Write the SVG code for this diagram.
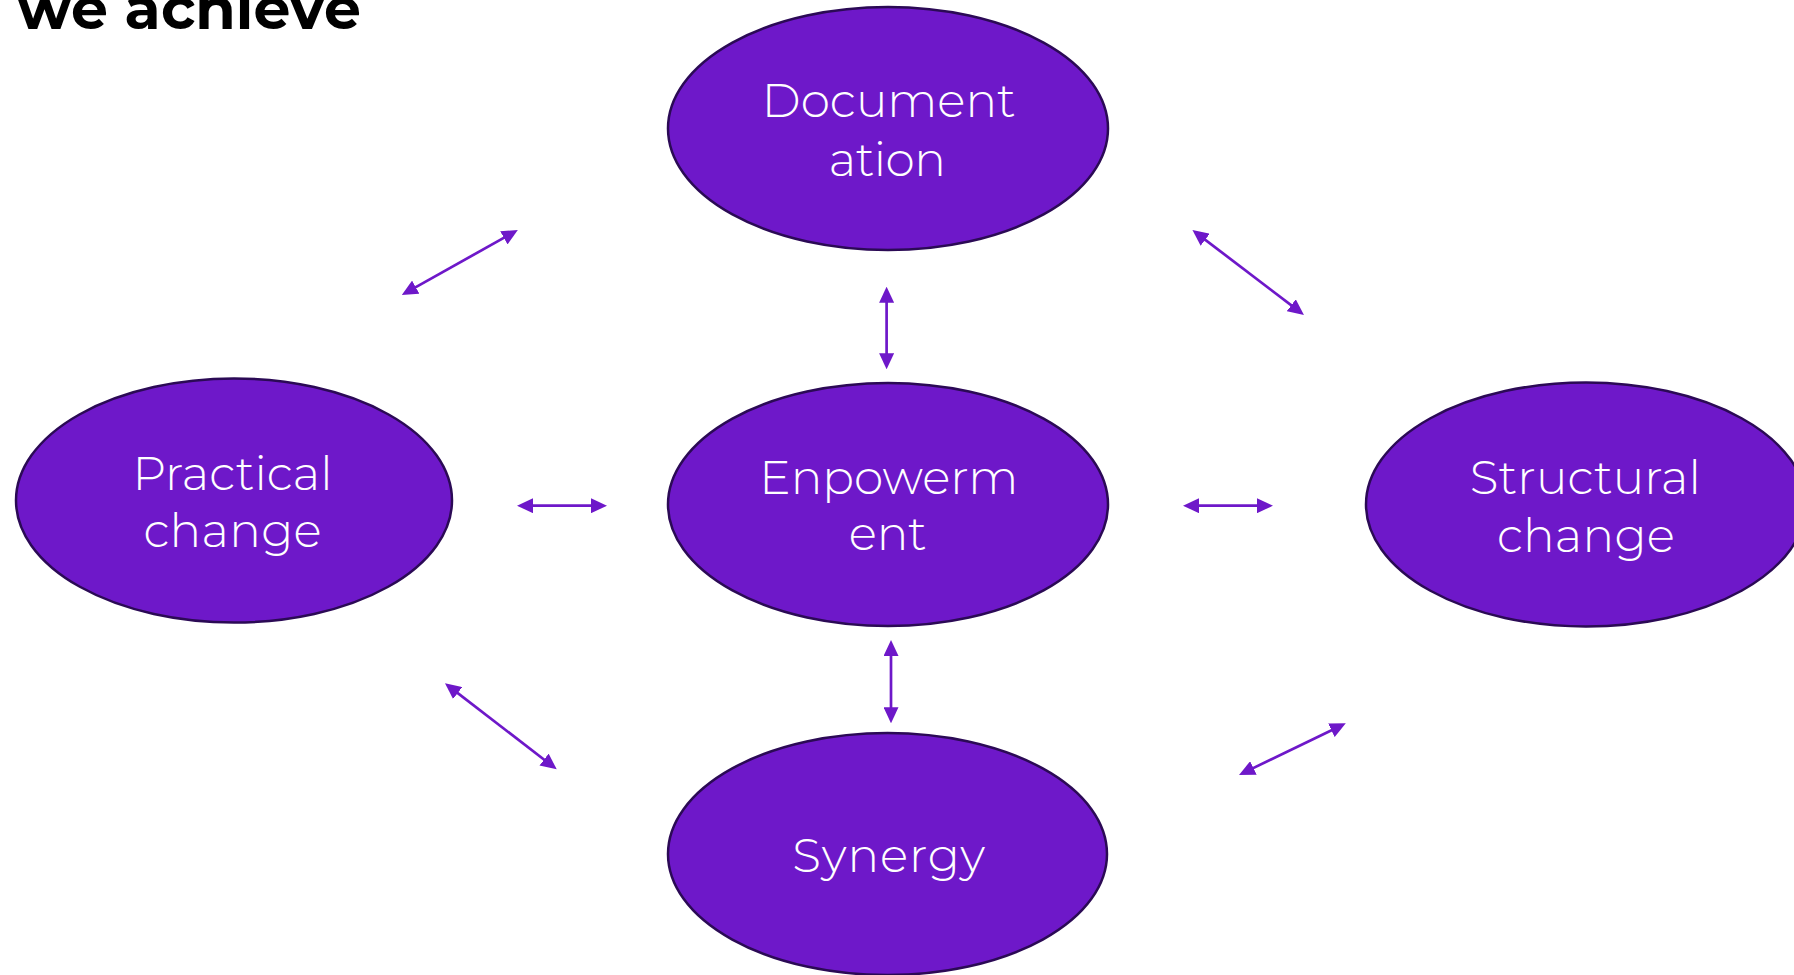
<svg xmlns="http://www.w3.org/2000/svg" width="1794" height="975" viewBox="0 0 1794 975">
<style>
.node{fill:#6E18C9;stroke:#2B0A55;stroke-width:2.5}
.lbl{font-family:Montserrat,"Lato","Open Sans",sans-serif;font-weight:300;font-size:47px;fill:#FFFFFF;text-anchor:middle}
.title{font-family:Montserrat,"Liberation Sans",Arial,sans-serif;font-weight:700;font-size:58px;fill:#000000}
.conn{stroke:#6E18C9;stroke-width:2.7;fill:none;marker-start:url(#ah);marker-end:url(#ah)}
</style>
<defs>
<marker id="ah" viewBox="0 0 16 15" refX="6" refY="7.5" markerWidth="16" markerHeight="15" markerUnits="userSpaceOnUse" orient="auto-start-reverse">
<path d="M0,0 L16,7.5 L0,15 Z" fill="#6E18C9"/>
</marker>
</defs>
<rect width="1794" height="975" fill="#FFFFFF"/>
<text class="title" x="17" y="29" textLength="344" lengthAdjust="spacingAndGlyphs">we achieve</text>
<g id="connectors">
<line class="conn" x1="410.5" y1="290.1" x2="509.1" y2="234.9"/>
<line class="conn" x1="886.6" y1="296.7" x2="886.6" y2="359.3"/>
<line class="conn" x1="1200.4" y1="236.1" x2="1296" y2="308.9"/>
<line class="conn" x1="527" y1="505.7" x2="597" y2="505.7"/>
<line class="conn" x1="1193" y1="505.7" x2="1263" y2="505.7"/>
<line class="conn" x1="452.9" y1="689.4" x2="548.8" y2="763.2"/>
<line class="conn" x1="891" y1="650" x2="891" y2="713.3"/>
<line class="conn" x1="1336.8" y1="727.7" x2="1248" y2="770.6"/>
</g>
<g id="documentation">
<ellipse class="node" cx="888" cy="128.5" rx="220" ry="121.5"/>
<text class="lbl" x="888.8" y="117.3" textLength="254" lengthAdjust="spacing">Document</text>
<text class="lbl" x="887.3" y="175.7" textLength="117" lengthAdjust="spacing">ation</text>
</g>
<g id="practical-change">
<ellipse class="node" cx="234" cy="500.5" rx="218" ry="122"/>
<text class="lbl" x="232.6" y="490" textLength="200" lengthAdjust="spacing">Practical</text>
<text class="lbl" x="232.6" y="547" textLength="178" lengthAdjust="spacing">change</text>
</g>
<g id="enpowerment">
<ellipse class="node" cx="888" cy="504.5" rx="220" ry="121.5"/>
<text class="lbl" x="888.8" y="494" textLength="259" lengthAdjust="spacing">Enpowerm</text>
<text class="lbl" x="887.8" y="550" textLength="78" lengthAdjust="spacing">ent</text>
</g>
<g id="structural-change">
<ellipse class="node" cx="1586" cy="504.5" rx="220" ry="122"/>
<text class="lbl" x="1585.3" y="494" textLength="231" lengthAdjust="spacing">Structural</text>
<text class="lbl" x="1585.9" y="551.7" textLength="178" lengthAdjust="spacing">change</text>
</g>
<g id="synergy">
<ellipse class="node" cx="887.5" cy="854" rx="219.5" ry="121"/>
<text class="lbl" x="888.7" y="872" textLength="193" lengthAdjust="spacing">Synergy</text>
</g>
</svg>
